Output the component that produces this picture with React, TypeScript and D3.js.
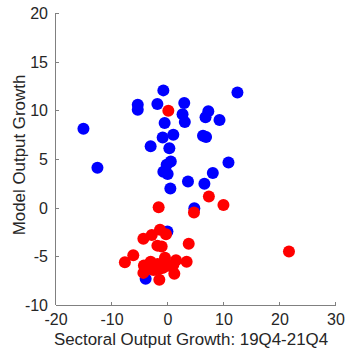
import React from "react";
import * as d3 from "d3";

const xTicks = [-20, -10, 0, 10, 20, 30];
const yTicks = [-10, -5, 0, 5, 10, 15, 20];
const xLabel = "Sectoral Output Growth: 19Q4-21Q4";
const yLabel = "Model Output Growth";

const blueX = [-0.83, 12.4, -5.4, -5.4, -1.9, 2.9, 2.6, 3.0, 7.2, 6.7, 9.2, -0.6, -15.1, 0.95, -0.95, 6.25, 6.8, -3.1, 0.24, -12.6, 0.5, -0.24, 10.8, -0.83, -0.06, 8.0, 3.57, 6.5, 0.42, 4.7, -0.1, -3.99];
const blueY = [12.05, 11.84, 10.57, 10.06, 10.64, 10.75, 9.6, 8.8, 9.9, 9.3, 9.0, 8.7, 8.1, 7.5, 7.2, 7.4, 7.25, 6.3, 6.1, 4.1, 4.75, 4.4, 4.64, 3.7, 3.45, 3.55, 2.7, 2.45, 1.97, -0.07, -2.45, -7.3];

const redX = [0.06, 7.3, 9.9, -1.67, 4.64, -1.43, -2.9, -4.4, -0.36, 3.7, -1.9, -1.13, -6.2, -7.7, 21.6, -3.1, -4.3, -0.54, 1.43, 3.33, -1.85, -0.24, 0.95, -4.4, -1.7, 1.13, -1.55, -2.6, -1.0];
const redY = [9.95, 1.14, 0.28, 0.04, -0.5, -2.28, -2.8, -3.2, -2.73, -3.7, -3.9, -4.0, -4.9, -5.6, -4.5, -5.55, -5.95, -5.14, -5.4, -5.55, -5.8, -6.0, -5.9, -6.7, -6.3, -6.8, -7.4, -6.4, -6.2];

export default function App() {
  const W = 346, H = 350;
  const x = d3.scaleLinear().domain([-20, 30]).range([56, 336]);
  const y = d3.scaleLinear().domain([-10, 20]).range([305, 13]);
  const axisColor = "#808080";
  const textColor = "#262626";
  const font = "'Liberation Sans', Arial, sans-serif";
  const r = 6;
  return (
    <svg width={W} height={H} style={{ position: "absolute", left: 0, top: 0, background: "#fff" }}>
      <g>
        {blueX.map((v, i) => (
          <circle key={"b" + i} cx={x(v)} cy={y(blueY[i])} r={r} fill="#0000ff" />
        ))}
        {redX.map((v, i) => (
          <circle key={"r" + i} cx={x(v)} cy={y(redY[i])} r={r} fill="#ff0000" />
        ))}
      </g>
      <g stroke={axisColor} strokeWidth={1} fill="none">
        <line x1={x(-20)} x2={x(30)} y1={y(-10) + 0.5} y2={y(-10) + 0.5} />
        <line x1={x(-20) - 0.5} x2={x(-20) - 0.5} y1={y(-10)} y2={y(20)} />
        {xTicks.map((t) => (
          <line key={"xt" + t} x1={Math.round(x(t)) - 0.5} x2={Math.round(x(t)) - 0.5} y1={y(-10)} y2={y(-10) - 3} />
        ))}
        {yTicks.map((t) => (
          <line key={"yt" + t} x1={x(-20)} x2={x(-20) + 3} y1={Math.round(y(t)) + 0.5} y2={Math.round(y(t)) + 0.5} />
        ))}
      </g>
      <g fill={textColor} fontFamily={font} fontSize={16}>
        {xTicks.map((t) => (
          <text key={"xl" + t} x={x(t)} y={325} textAnchor="middle">{t}</text>
        ))}
        {yTicks.map((t) => (
          <text key={"yl" + t} x={x(-20) - 8} y={y(t) + 6} textAnchor="end">{t}</text>
        ))}
        <text x={(x(-20) + x(30)) / 2 - 5} y={345} textAnchor="middle" fontSize={16.9}>{xLabel}</text>
        <text transform={`translate(24.5,${(y(-10) + y(20)) / 2 - 4}) rotate(-90)`} textAnchor="middle" fontSize={16.9}>{yLabel}</text>
      </g>
    </svg>
  );
}
